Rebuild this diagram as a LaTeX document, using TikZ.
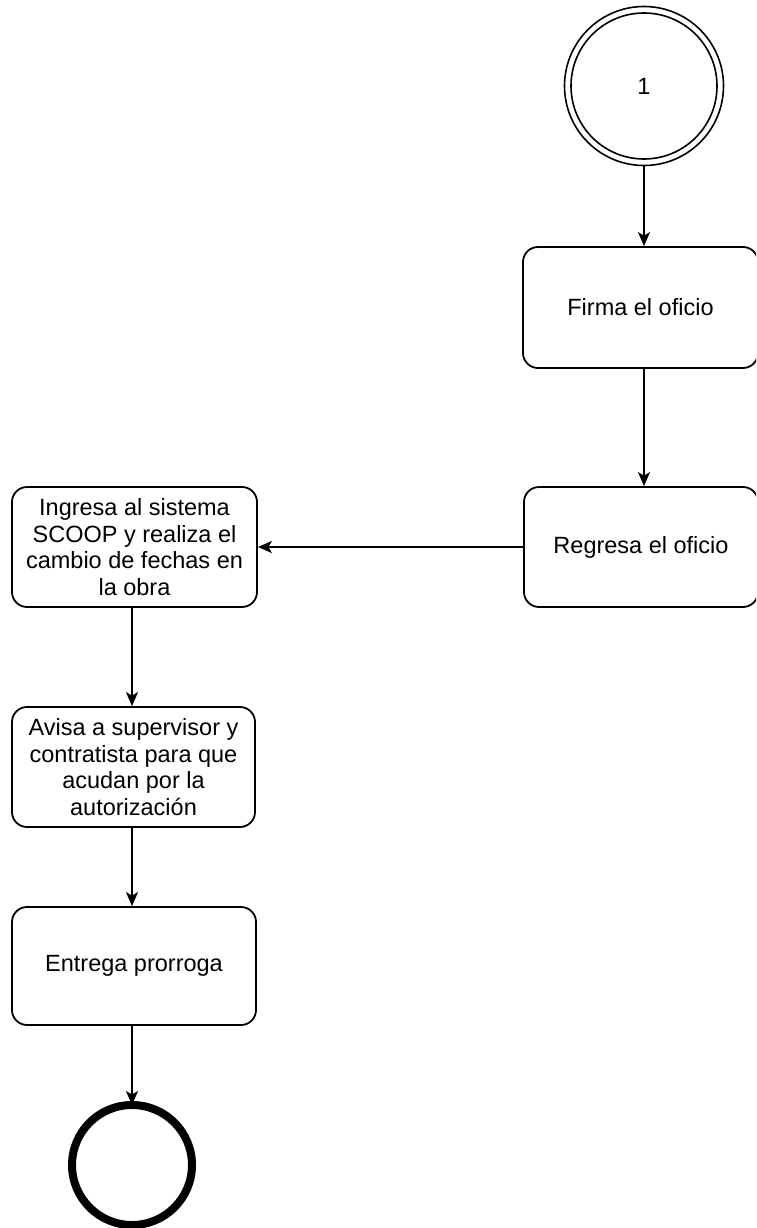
\documentclass[tikz,border=0pt]{standalone}
\usepackage{fontspec}
\setmainfont{Liberation Sans}
\usetikzlibrary{arrows.meta}
\begin{document}
\begin{tikzpicture}[x=1pt,y=-1pt,
  font=\fontsize{23.5}{26.5}\selectfont,
  stepbox/.style={draw=black,line width=1.8pt,rounded corners=15pt,
    align=center,inner sep=0pt,fill=white},
  flow/.style={draw=black,line width=1.8pt,
    -{Stealth[length=14pt,width=12pt,inset=3.5pt]}}]
  \useasboundingbox (0,0) rectangle (756,1228);
  \clip (0,0) rectangle (756,1228);

  % start connector (double circle)
  \node[circle,draw,line width=1.6pt,minimum size=146pt,inner sep=0pt] (c1) at (644,86) {1};
  \draw[line width=1.6pt] (644,86) circle[radius=79.5];

  % steps on the right
  \node[stepbox,minimum width=235pt,minimum height=121pt] (b1) at (640.5,307.5) {Firma el oficio};
  \node[stepbox,minimum width=234pt,minimum height=120pt] (b2) at (641,547) {Regresa el oficio};

  % steps on the left
  \node[stepbox,minimum width=245pt,minimum height=120pt] (b3) at (134.5,547)
    {Ingresa al sistema\\SCOOP y realiza el\\cambio de fechas en\\la obra};
  \node[stepbox,minimum width=243pt,minimum height=120pt] (b4) at (133.5,767)
    {Avisa a supervisor y\\contratista para que\\acudan por la\\autorización};
  \node[stepbox,minimum width=244pt,minimum height=118pt] (b5) at (134,966) {Entrega prorroga};

  % end event
  \node[circle,draw,line width=8pt,minimum size=120pt,inner sep=0pt] (e) at (132,1165) {};

  % connectors
  \coordinate (c1b) at (644,166);
  \draw[flow] (c1b) -- (c1b |- b1.north);
  \draw[flow] (b1.south -| c1b) -- (c1b |- b2.north);
  \draw[flow] (b2.west) -- (b3.east);
  \draw[flow] (b3.south -| e) -- (e |- b4.north);
  \draw[flow] (b4.south -| e) -- (e |- b5.north);
  \draw[flow] (b5.south -| e) -- ([yshift=-4pt]e.north);
\end{tikzpicture}
\end{document}
